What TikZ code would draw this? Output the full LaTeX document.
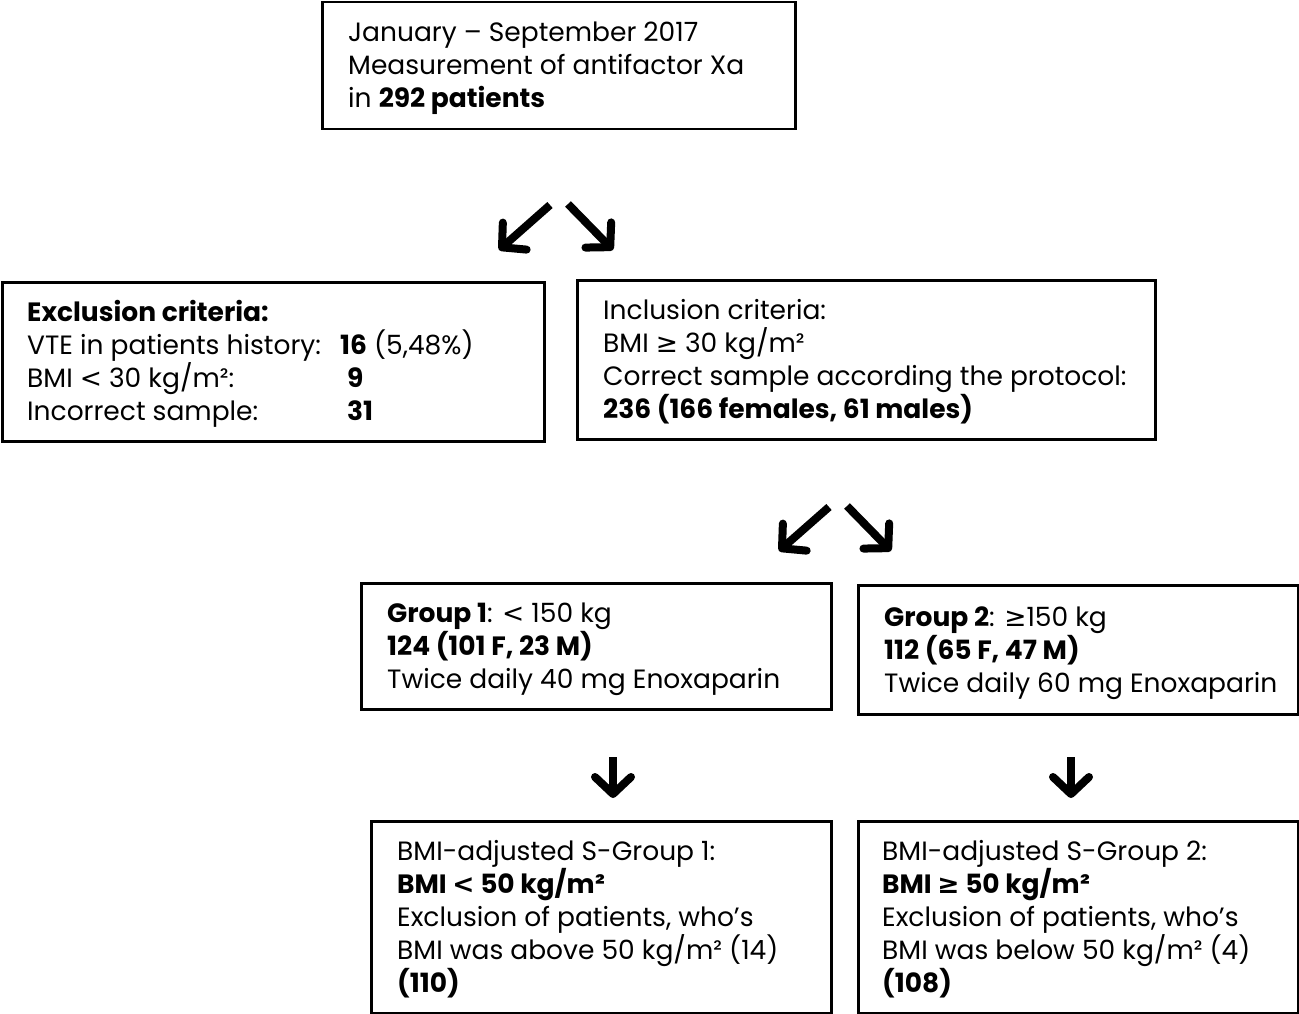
\documentclass[tikz,border=0pt]{standalone}
\usepackage{fontspec}
\setmainfont{Poppins}
\newfontfamily\symf{DejaVu Sans}
\usetikzlibrary{arrows.meta}
\newcommand{\gesym}{{\symf ≥}}
\newcommand{\ltsym}{{\symf <}}
\begin{document}
\begin{tikzpicture}[x=1pt,y=-1pt,
  box/.style={draw,line width=2.5pt,anchor=north west,inner sep=0pt},
  txt/.style={align=left,anchor=west,inner sep=0pt,font=\fontsize{26.5}{33}\selectfont},
  bigarrow/.style={line width=8pt,-{Straight Barb[length=17pt,width=36pt,line width=8pt,round]}}]
\useasboundingbox (0,0) rectangle (1299,1014);
\node[box,minimum width=473pt,minimum height=127pt] (top) at (321,1) {};
\node[txt] (ttop) at ([xshift=27pt,yshift=-2pt]top.west)
 {January – September 2017\\Measurement of antifactor Xa\\in \textbf{292 patients}};
\node[box,minimum width=542pt,minimum height=159pt] (excl) at (1,281) {};
\node[txt] (texcl) at ([xshift=26pt,yshift=-2pt]excl.west)
 {\textbf{Exclusion criteria:}\\
 \makebox[313pt][l]{VTE in patients history:}\textbf{16} (5,48\%)\\
 \makebox[320pt][l]{BMI \ltsym{} 30 kg/m²:}\textbf{9}\\
 \makebox[320pt][l]{Incorrect sample:}\textbf{31}};
\node[box,minimum width=578pt,minimum height=159pt] (incl) at (576,279) {};
\node[txt] (tincl) at ([xshift=27pt,yshift=-2pt]incl.west)
 {Inclusion criteria:\\BMI \gesym{} 30 kg/m²\\Correct sample according the protocol:\\\textbf{236 (166 females, 61 males)}};
\node[box,minimum width=470pt,minimum height=126pt] (g1) at (360,582) {};
\node[txt] (tg1) at ([xshift=27pt,yshift=-3pt]g1.west)
 {\textbf{Group 1}: \ltsym{} 150 kg\\\textbf{124 (101 F, 23 M)}\\Twice daily 40 mg Enoxaparin};
\node[box,minimum width=440pt,minimum height=129pt] (g2) at (857,584) {};
\node[txt] (tg2) at ([xshift=27pt,yshift=-3pt]g2.west)
 {\textbf{Group 2}: \gesym150 kg\\\textbf{112 (65 F, 47 M)}\\Twice daily 60 mg Enoxaparin};
\node[box,minimum width=460pt,minimum height=192pt] (s1) at (370,820) {};
\node[txt] (ts1) at ([xshift=27pt,yshift=-2pt]s1.west)
 {BMI-adjusted S-Group 1:\\\textbf{BMI \ltsym{} 50 kg/m²}\\Exclusion of patients, who’s\\BMI was above 50 kg/m² (14)\\\textbf{(110)}};
\node[box,minimum width=440pt,minimum height=192pt] (s2) at (857,820) {};
\node[txt] (ts2) at ([xshift=25pt,yshift=-2pt]s2.west)
 {BMI-adjusted S-Group 2:\\\textbf{BMI \gesym{} 50 kg/m²}\\Exclusion of patients, who’s\\BMI was below 50 kg/m² (4)\\\textbf{(108)}};
\coordinate (a1s) at (550,205); \coordinate (a1e) at (499,250);
\coordinate (a2s) at (568,204); \coordinate (a2e) at (613,250);
\coordinate (a3s) at (829,507); \coordinate (a3e) at (779,551);
\coordinate (a4s) at (847,506); \coordinate (a4e) at (891,551);
\coordinate (a5s) at (613,757); \coordinate (a5e) at (613,798);
\coordinate (a6s) at (1071,757); \coordinate (a6e) at (1071,798);
\foreach \i in {1,...,6} {\draw[bigarrow] (a\i s) -- (a\i e);}
\end{tikzpicture}
\end{document}
